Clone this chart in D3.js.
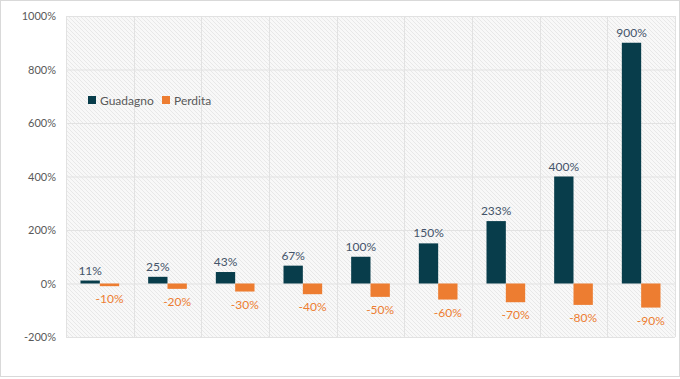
<!DOCTYPE html>
<html><head><meta charset="utf-8">
<script src="https://cdn.jsdelivr.net/npm/d3@7"></script>
<style>body{margin:0;background:#fff}svg{display:block}text{font-family:Lato,"Open Sans",sans-serif}</style>
</head><body>
<script>
const categories = ["1","2","3","4","5","6","7","8","9"];
const guadagno = [11.1, 25, 42.9, 66.7, 100, 150, 233.3, 400, 900];
const perdita = [-10, -20, -30, -40, -50, -60, -70, -80, -90];
const yTicks = [-200, 0, 200, 400, 600, 800, 1000];
const seriesNames = ["Guadagno", "Perdita"];
const colors = ["#083d4b", "#ed7d31"];

const W = 680, H = 379;
const m = {l: 66, r: 5, t: 16, b: 42};
const svg = d3.select("body").append("svg").attr("width", W).attr("height", H);
svg.append("rect").attr("x", 0.5).attr("y", 0.5).attr("width", W - 1).attr("height", H - 3)
  .attr("fill", "#fff").attr("stroke", "#d9d9d9");

const defs = svg.append("defs");
const pat = defs.append("pattern").attr("id", "hatch").attr("patternUnits", "userSpaceOnUse")
  .attr("width", 4).attr("height", 4);
pat.append("rect").attr("width", 4).attr("height", 4).attr("fill", "#f8f8f8");
pat.append("path").attr("d", "M-1,-1 L5,5 M-1,3 L1,5 M3,-1 L5,1").attr("stroke", "#e8e8e8").attr("stroke-width", 1);

const band = d3.scaleBand().domain(categories).range([m.l, W - m.r]);
const y = d3.scaleLinear().domain([-200, 1000]).range([H - m.b, m.t]);

svg.append("rect").attr("x", m.l).attr("y", m.t).attr("width", W - m.r - m.l).attr("height", H - m.b - m.t)
  .attr("fill", "url(#hatch)");

// gridlines
svg.append("g").selectAll("line").data(yTicks).join("line")
  .attr("x1", m.l).attr("x2", W - m.r).attr("y1", d => y(d) + 0.5).attr("y2", d => y(d) + 0.5)
  .attr("stroke", "#e2e2e2");
const vx = categories.map(c => band(c)).concat([W - m.r]);
svg.append("g").selectAll("line").data(vx).join("line")
  .attr("x1", d => Math.round(d) + 0.5).attr("x2", d => Math.round(d) + 0.5).attr("y1", m.t).attr("y2", H - m.b)
  .attr("stroke", "#e2e2e2");

// y axis labels
const yAxis = d3.axisLeft(y).tickValues(yTicks).tickFormat(d => d + "%").tickSize(0).tickPadding(10);
const ga = svg.append("g").attr("transform", `translate(${m.l},0)`).call(yAxis);
ga.select(".domain").remove();
ga.selectAll("text").attr("fill", "#595959").style("font-size", "11px").style("font-family", "Lato,sans-serif");

const bw = band.bandwidth() / 3.5;
const data = categories.map((c, i) => ({c, g: guadagno[i], p: perdita[i]}));

svg.append("g").selectAll("rect").data(data).join("rect")
  .attr("x", d => band(d.c) + band.bandwidth() / 2 - bw)
  .attr("width", bw)
  .attr("y", d => y(d.g)).attr("height", d => y(0) - y(d.g))
  .attr("fill", colors[0]);
svg.append("g").selectAll("rect").data(data).join("rect")
  .attr("x", d => band(d.c) + band.bandwidth() / 2)
  .attr("width", bw)
  .attr("y", y(0)).attr("height", d => y(d.p) - y(0))
  .attr("fill", colors[1]);

// labels
svg.append("g").selectAll("text").data(data).join("text")
  .attr("x", d => band(d.c) + band.bandwidth() / 2 - bw / 2)
  .attr("y", d => y(d.g) - 6)
  .attr("text-anchor", "middle").attr("fill", "#44546a").style("font-size", "12px")
  .text(d => Math.round(d.g) + "%");
svg.append("g").selectAll("text").data(data).join("text")
  .attr("x", d => band(d.c) + band.bandwidth() / 2 + bw / 2)
  .attr("y", d => y(d.p) + 17)
  .attr("text-anchor", "middle").attr("fill", "#ed7d31").style("font-size", "12px")
  .text(d => d.p + "%");

// legend
const lg = svg.append("g").attr("transform", "translate(88,100)");
const items = [{n: seriesNames[0], c: colors[0], x: 0}, {n: seriesNames[1], c: colors[1], x: 74}];
items.forEach(it => {
  lg.append("rect").attr("x", it.x).attr("y", -4).attr("width", 8).attr("height", 8).attr("fill", it.c);
  lg.append("text").attr("x", it.x + 12).attr("y", 4.5).attr("fill", "#595959").style("font-size", "12px").text(it.n);
});
</script>
</body></html>
